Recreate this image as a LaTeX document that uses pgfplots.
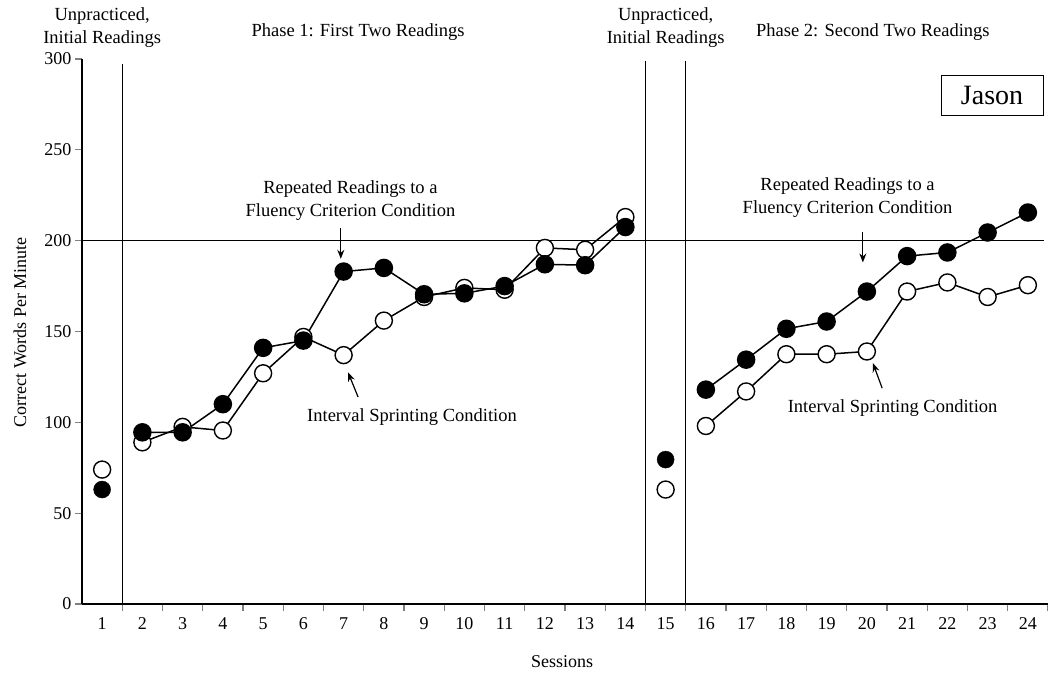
\documentclass[border=0pt]{standalone}
\usepackage{pgfplots}
\pgfplotsset{compat=1.18}
\usepackage{fontspec}
\setmainfont{Liberation Serif}
\usetikzlibrary{arrows.meta}
\newcommand\ann{\fontsize{18.5}{23}\selectfont}
\begin{document}
\begin{tikzpicture}
\path[use as bounding box] (-82pt,-71pt) rectangle (966pt,604pt);
\begin{axis}[
  at={(0pt,0pt)}, anchor=south west,
  scale only axis, width=966pt, height=545pt,
  xmin=0.5, xmax=24.5, ymin=0, ymax=300,
  axis lines=left, axis line style={-, line width=1.4pt},
  clip=false,
  xtick={1,...,24},
  major x tick style={draw=none},
  minor xtick={1.5,2.5,...,24.5},
  minor x tick style={line width=1.3pt},
  ytick={0,50,...,300},
  y tick style={line width=1.3pt},
  tick align=outside,
  major tick length=7pt, minor tick length=7pt,
  tick label style={font=\fontsize{18}{20}\selectfont},
  xticklabel style={yshift=-3pt},
  /pgf/number format/assume math mode=true,
  xlabel={Sessions},
  ylabel={Correct Words Per Minute},
  xlabel style={at={(axis description cs:0.497,-0.1064)}, anchor=center, font=\fontsize{18}{20}\selectfont},
  ylabel style={at={(axis description cs:-0.0642,0.499)}, anchor=center, font=\fontsize{18}{20}\selectfont},
]
% phase lines
\draw[line width=1.3pt] (axis cs:1.5,0) -- (axis cs:1.5,297);
\draw[line width=1.3pt] (axis cs:14.5,0) -- (axis cs:14.5,299);
\draw[line width=1.3pt] (axis cs:15.5,0) -- (axis cs:15.5,299);
\draw[line width=1.3pt] (axis cs:0.5,200) -- (axis cs:24.4,200);

% open circles (Interval Sprinting)
\addplot[only marks, mark=*, mark size=8.5pt, mark options={fill=white, draw=black, line width=1.4pt}] coordinates {(1,74) (15,63)};
\addplot[black, line width=1.5pt, mark=*, mark size=8.5pt, mark options={fill=white, draw=black, line width=1.4pt}] coordinates {
(2,89) (3,97.5) (4,95.5) (5,127) (6,147) (7,137) (8,156) (9,169) (10,174) (11,173) (12,196) (13,195) (14,213)};
\addplot[black, line width=1.5pt, mark=*, mark size=8.5pt, mark options={fill=white, draw=black, line width=1.4pt}] coordinates {
(16,98) (17,117) (18,137.5) (19,137.5) (20,139) (21,172) (22,177) (23,169) (24,175.5)};

% filled circles (Repeated Readings)
\addplot[only marks, mark=*, mark size=8.5pt, mark options={fill=black, draw=black}] coordinates {(1,63) (15,79.5)};
\addplot[black, line width=1.5pt, mark=*, mark size=8.5pt, mark options={fill=black, draw=black}] coordinates {
(2,94.5) (3,94.5) (4,110) (5,141) (6,145) (7,183) (8,185) (9,170.5) (10,171) (11,175) (12,187) (13,186.5) (14,207.5)};
\addplot[black, line width=1.5pt, mark=*, mark size=8.5pt, mark options={fill=black, draw=black}] coordinates {
(16,118) (17,134.5) (18,151.5) (19,155.5) (20,172) (21,191.5) (22,193.5) (23,204.5) (24,215.5)};

% headings
\node[align=center, font=\ann, inner sep=0pt] at (axis cs:1,317.5) {Unpracticed,\\Initial Readings};
\node[align=center, font=\ann, inner sep=0pt] at (axis cs:15,317.5) {Unpracticed,\\Initial Readings};
\node[font=\ann, inner sep=0pt] at (axis cs:7.36,314.6) {Phase 1: First Two Readings};
\node[font=\ann, inner sep=0pt] at (axis cs:20.15,314.6) {Phase 2: Second Two Readings};
\node[draw, line width=1pt, minimum width=102pt, minimum height=40pt, inner sep=0pt, font=\fontsize{28}{30}\selectfont] at (axis cs:23.11,280) {Jason};

% annotations phase 1
\node[align=center, font=\ann, inner sep=0pt] at (axis cs:7.17,222) {Repeated Readings to a\\Fluency Criterion Condition};
\draw[line width=1.2pt, -{Stealth[length=9pt,width=7pt]}] (axis cs:6.93,207) -- (axis cs:6.93,190);
\node[font=\ann, inner sep=0pt] at (axis cs:8.7,103) {Interval Sprinting Condition};
\draw[line width=1.2pt, -{Stealth[length=9pt,width=7pt]}] (axis cs:7.36,113.9) -- (axis cs:7.11,127.5);

% annotations phase 2
\node[align=center, font=\ann, inner sep=0pt] at (axis cs:19.52,223.6) {Repeated Readings to a\\Fluency Criterion Condition};
\draw[line width=1.2pt, -{Stealth[length=9pt,width=7pt]}] (axis cs:19.9,204.6) -- (axis cs:19.9,188);
\node[font=\ann, inner sep=0pt] at (axis cs:20.64,107.8) {Interval Sprinting Condition};
\draw[line width=1.2pt, -{Stealth[length=9pt,width=7pt]}] (axis cs:20.38,118.8) -- (axis cs:20.15,132.6);
\end{axis}
\end{tikzpicture}
\end{document}
